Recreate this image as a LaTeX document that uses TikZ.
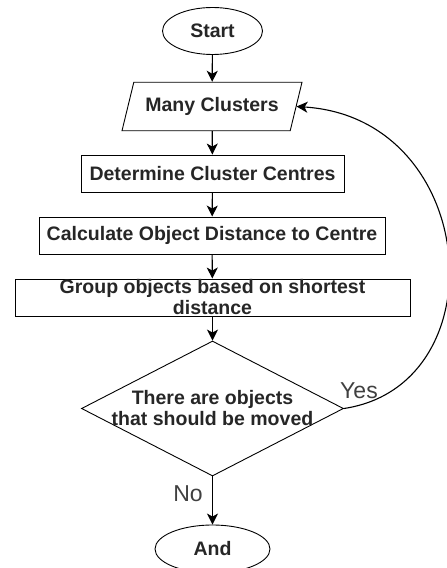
\documentclass[tikz,border=0pt]{standalone}
\usepackage{fontspec}
\setmainfont{Liberation Sans}
\usetikzlibrary{shapes.geometric,arrows.meta}
\begin{document}
\begin{tikzpicture}[x=1bp,y=-1bp,
  txtfont/.style={text=black!85, font=\bfseries\fontsize{19.5bp}{21bp}\selectfont},
  base/.style={draw=black, line width=0.9bp, txtfont, inner sep=0pt, align=center},
  term/.style={base, ellipse, minimum width=100bp, minimum height=47bp},
  io/.style={base, trapezium, trapezium left angle=57, trapezium right angle=123,
             trapezium stretches body, minimum width=180bp, minimum height=48.5bp},
  proc/.style={base, rectangle, minimum height=37bp},
  decision/.style={base, diamond, minimum width=262bp, minimum height=135bp},
  txt/.style={txtfont, align=center, inner sep=0pt},
  lbl/.style={text=black!75, font=\fontsize{23bp}{26bp}\selectfont, inner sep=0pt},
  flow/.style={draw=black, line width=1.1bp, -{Stealth[length=11bp,width=11bp,inset=3bp]}}
]
\useasboundingbox (0,0) rectangle (447,568);

\node[term] (start) at (212.5,31) {Start};
\node[io] (many) at (212,106.5) {Many Clusters};
\node[proc, minimum width=263bp] (det) at (212.5,173.5) {Determine Cluster Centres};
\node[proc, minimum width=346bp] (calc) at (212,235.5) {Calculate Object Distance to Centre};
\node[proc, minimum width=395bp] (grp) at (212.5,297.5) {Group objects based on shortest\\distance};
\node[decision] (dec) at (212.5,408.5) {};
\node[txt] (dectext) at (dec.center) {There are objects\\that should be moved};
\node[term, minimum width=115bp, minimum height=48bp] (stop) at (212.5,549) {And};

\draw[flow] (start) -- (many);
\draw[flow] (many) -- (det);
\draw[flow] (det) -- (calc);
\draw[flow] (calc) -- (grp);
\draw[flow] (grp) -- (dec);
\draw[flow] (dec) -- (stop);
\draw[flow] (dec.east) .. controls (500,385) and (480,118) .. (many.east);

\node[lbl] (yes) at (359,391) {Yes};
\node[lbl] (no) at (188,494) {No};
\end{tikzpicture}
\end{document}
